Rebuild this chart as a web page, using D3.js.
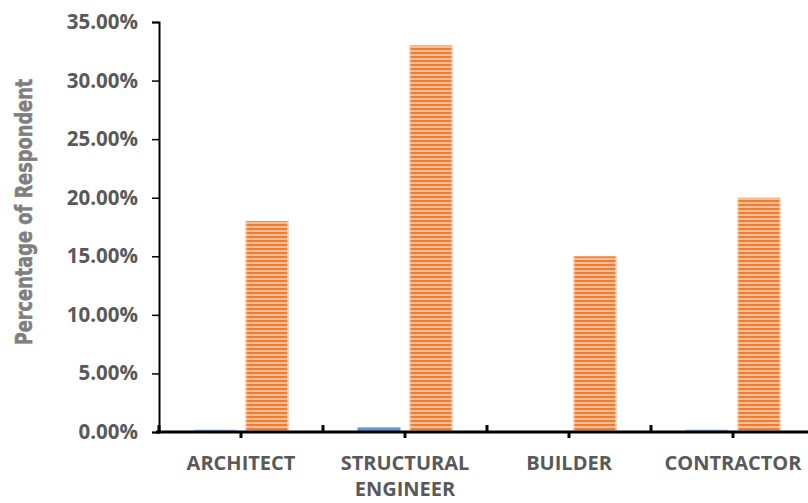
<!DOCTYPE html>
<html><head><meta charset="utf-8">
<script src="https://cdn.jsdelivr.net/npm/d3@7"></script>
<style>html,body{margin:0;padding:0;background:#fff;}svg{display:block;}</style>
</head><body>
<svg id="c" width="808" height="503"></svg>
<script>
const categories = ["ARCHITECT", "STRUCTURAL ENGINEER", "BUILDER", "CONTRACTOR"];
const seriesA = [0.002, 0.004, 0.0, 0.002];   // blue series
const seriesB = [0.18, 0.33, 0.15, 0.20];     // orange striped series
const yTicks = [0, 0.05, 0.10, 0.15, 0.20, 0.25, 0.30, 0.35];
const yTitle = "Percentage of Respondent";

const svg = d3.select("#c");
const defs = svg.append("defs");
const pat = defs.append("pattern").attr("id", "stripes")
  .attr("patternUnits", "userSpaceOnUse").attr("width", 8).attr("height", 4);
pat.append("rect").attr("width", 8).attr("height", 4).attr("fill", "#F4A26B");
pat.append("rect").attr("y", 0).attr("width", 8).attr("height", 2).attr("fill", "#ED7D31");
pat.append("rect").attr("y", 2.5).attr("width", 8).attr("height", 1).attr("fill", "#FBD9C1");

const x0 = 159, y0 = 432, yTop = 22;
const x = d3.scaleBand().domain(categories).range([x0, x0 + 164 * 4]).paddingInner(0).paddingOuter(0);
const y = d3.scaleLinear().domain([0, 0.35]).range([y0, yTop]);
const bw = 43, gap = 9;

// bars
const g = svg.append("g");
categories.forEach((c, i) => {
  const cx = x(c) + x.bandwidth() / 2;
  if (seriesA[i] > 0) {
    g.append("rect").attr("x", cx - gap / 2 - bw).attr("width", bw)
      .attr("y", y(seriesA[i])).attr("height", y0 - y(seriesA[i]))
      .attr("fill", i === 1 ? "#5B9BD5" : "#9DC3E6");
  }
  g.append("rect").attr("x", cx + gap / 2).attr("width", bw)
    .attr("y", y(seriesB[i])).attr("height", y0 - y(seriesB[i]))
    .attr("fill", "url(#stripes)");
  g.append("rect").attr("x", cx + gap / 2).attr("width", 1.2)
    .attr("y", y(seriesB[i])).attr("height", y0 - y(seriesB[i]))
    .attr("fill", "#FBD9C1").attr("opacity", 0.8);
  g.append("rect").attr("x", cx + gap / 2 + bw - 1.2).attr("width", 1.2)
    .attr("y", y(seriesB[i])).attr("height", y0 - y(seriesB[i]))
    .attr("fill", "#FBD9C1").attr("opacity", 0.8);
});

// y axis
const yAxis = d3.axisLeft(y).tickValues(yTicks).tickFormat(d3.format(".2%")).tickSize(7).tickPadding(14);
const ya = svg.append("g").attr("transform", `translate(${x0},0)`).call(yAxis);
ya.select(".domain").attr("stroke", "#000").attr("stroke-width", 2);
ya.selectAll(".tick line").attr("stroke", "#000").attr("stroke-width", 1.5);
ya.selectAll(".tick text").attr("fill", "#595959")
  .style("font-family", "'Open Sans', sans-serif").style("font-weight", "bold").style("font-size", "20.5px");

// x axis
const xa = svg.append("g").attr("transform", `translate(0,${y0})`).call(
  d3.axisBottom(x).tickSize(6).tickFormat(""));
xa.select(".domain").remove();
xa.selectAll(".tick line").attr("stroke", "#000").attr("stroke-width", 3);
svg.append("line").attr("x1", x0 - 3).attr("x2", 808).attr("y1", y0).attr("y2", y0)
  .attr("stroke", "#000").attr("stroke-width", 3);
// boundary ticks (upward)
const bounds = categories.map(c => x(c));
svg.append("g").selectAll("line").data(bounds).join("line")
  .attr("x1", d => d).attr("x2", d => d).attr("y1", y0).attr("y2", y0 - 7)
  .attr("stroke", "#000").attr("stroke-width", 3);

// x labels
const xl = svg.append("g");
categories.forEach(c => {
  const cx = x(c) + x.bandwidth() / 2;
  const words = c === "STRUCTURAL ENGINEER" ? ["STRUCTURAL", "ENGINEER"] : [c];
  const t = xl.append("text").attr("x", cx).attr("y", 470).attr("text-anchor", "middle")
    .attr("fill", "#595959").style("font-family", "'Open Sans', sans-serif")
    .style("font-weight", "bold").style("font-size", "20px");
  words.forEach((w, j) => t.append("tspan").attr("x", cx).attr("dy", j === 0 ? 0 : 26).text(w));
});

// y title
svg.append("text").attr("transform", `translate(32,212) rotate(-90) scale(0.86,1)`)
  .attr("text-anchor", "middle").attr("fill", "#7F7F7F")
  .attr("stroke", "#7F7F7F").attr("stroke-width", 0.5)
  .style("font-family", "'DejaVu Sans Condensed', 'DejaVu Sans', sans-serif")
  .style("font-stretch", "condensed")
  .style("font-weight", "bold").style("font-size", "23px").text(yTitle);
</script>
</body></html>
